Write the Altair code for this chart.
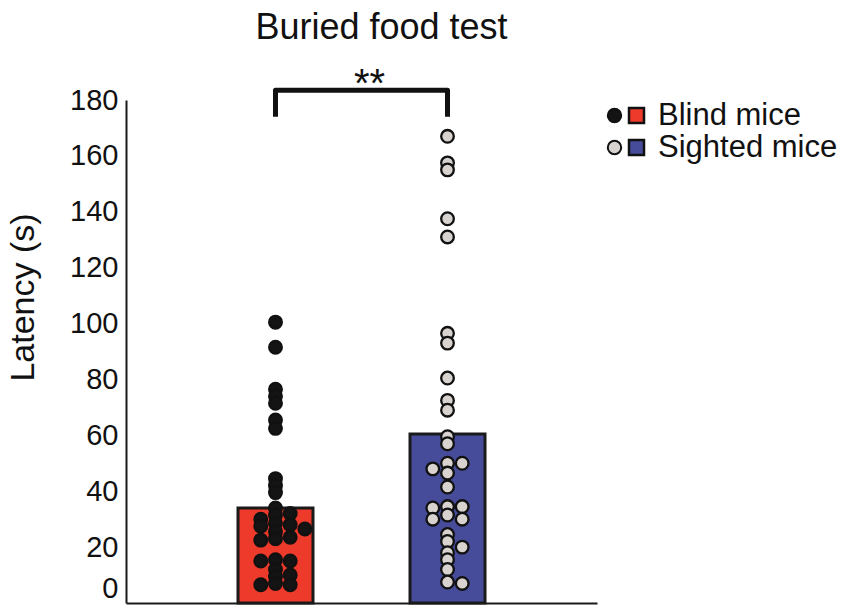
import altair as alt
import pandas as pd

# ---------------- data ----------------
groups = ["Blind mice", "Sighted mice"]
blind_latency = [100.5, 91.5, 76.5, 74, 71.5, 65.5, 62.5, 44.5, 42, 39.5, 34, 32,
                 31.5, 30, 28.5, 28, 27.5, 26.5, 25.5, 23.5, 23, 22.5, 15.5, 15,
                 15, 12, 10, 9.5, 7, 6.5, 6.5]
sighted_latency = [167, 157.5, 155, 137.5, 131, 96.5, 93, 80.5, 72.5, 69, 59.5, 57,
                   50, 50, 48, 46.5, 41.5, 34, 34.5, 31.5, 34.5, 30, 30, 24.5, 22,
                   20, 18, 15.5, 12, 7.5, 7]
bar_means = [34, 60.5]
y_ticks = [0, 20, 40, 60, 80, 100, 120, 140, 160, 180]
bracket_low = 174
bracket_high = 183.5
sig_label = "**"
sig_y = 181

bar_colors = ["#ee3a2b", "#474c9a"]
dot_colors = ["#141414", "#d8d3cf"]
FONT = "Liberation Sans"

# ---------------- simple beeswarm (computed from the values) ----------------
PX_PER_UNIT = 503 / 180.0
SLOT_W = 0.0855          # horizontal slot width in x-units (~15 px)
THR = 6.5 / PX_PER_UNIT  # vertical closeness that forces a sideways shift


def swarm(values):
    placed = []
    slots = [0] * len(values)
    order = sorted(range(len(values)), key=lambda i: -values[i])
    for i in order:
        v = values[i]
        chosen = 0
        for s in [0, 1, -1, 2, -2, 3, -3]:
            if all(not (ps == s and abs(pv - v) < THR) for pv, ps in placed):
                chosen = s
                break
        placed.append((v, chosen))
        slots[i] = chosen
    return slots


rows = []
for gi, (g, vals) in enumerate(zip(groups, [blind_latency, sighted_latency])):
    for v, s in zip(vals, swarm(vals)):
        rows.append({"group": g, "value": v, "xpos": gi + s * SLOT_W})
points_df = pd.DataFrame(rows)

bars_df = pd.DataFrame({"group": groups, "xpos": list(range(len(groups))), "mean": bar_means})

bracket_df = pd.DataFrame({
    "xpos": [0, 0, 1, 1],
    "y": [bracket_low, bracket_high, bracket_high, bracket_low],
    "order": [0, 1, 2, 3],
})
sig_df = pd.DataFrame({"xpos": [0.5], "y": [sig_y], "label": [sig_label]})

# ---------------- scales ----------------
x_scale = alt.Scale(domain=[-0.84, 1.84], nice=False, zero=False)
y_scale = alt.Scale(domain=[0, 180], nice=False)

x_axis = alt.Axis(labels=False, ticks=False, grid=False, title=None,
                  domainColor="#1a1a1a", domainWidth=2)
y_axis = alt.Axis(values=y_ticks, ticks=False, grid=False, labelFontSize=29,
                  labelFont=FONT, labelColor="#111", labelPadding=8,
                  labelBaseline={"expr": "datum.value == 0 ? 'bottom' : 'middle'"},
                  domainColor="#1a1a1a", domainWidth=2,
                  title="Latency (s)", titleFont=FONT, titleFontSize=34,
                  titleFontWeight="normal", titleColor="#111",
                  titleAngle=270, titleX=-103, titleY=197,
                  titleAlign="center", titleBaseline="middle")

bars = alt.Chart(bars_df).mark_bar(size=75, stroke="#1a1a1a", strokeWidth=3).encode(
    x=alt.X("xpos:Q", scale=x_scale, axis=x_axis),
    y=alt.Y("mean:Q", scale=y_scale, axis=y_axis),
    fill=alt.Fill("group:N", scale=alt.Scale(domain=groups, range=bar_colors),
                  legend=alt.Legend(title=None, orient="none", legendX=495, legendY=0,
                                    symbolType="square", symbolSize=225,
                                    symbolStrokeColor="#111", symbolStrokeWidth=2.5,
                                    symbolOpacity=1,
                                    labelFont=FONT, labelFontSize=31, labelColor="#111",
                                    labelLimit=400,
                                    labelOffset=6, rowPadding=0, padding=0)),
)

dots = alt.Chart(points_df).mark_circle(size=160, stroke="#111", strokeWidth=2.3,
                                         opacity=1).encode(
    x=alt.X("xpos:Q", scale=x_scale),
    y=alt.Y("value:Q", scale=y_scale),
    fill=alt.Fill("group:N", scale=alt.Scale(domain=groups, range=dot_colors),
                  legend=alt.Legend(title=None, orient="none", legendX=473, legendY=0,
                                    symbolType="circle", symbolSize=180,
                                    symbolStrokeColor="#111", symbolStrokeWidth=2,
                                    symbolOpacity=1,
                                    labelExpr="''",
                                    labelFont=FONT, labelFontSize=31,
                                    labelOffset=6, rowPadding=0, padding=0)),
)

bracket = alt.Chart(bracket_df).mark_line(color="#111", strokeWidth=5,
                                          strokeJoin="round", clip=False).encode(
    x=alt.X("xpos:Q", scale=x_scale),
    y=alt.Y("y:Q", scale=y_scale),
    order="order:Q",
)

sig = alt.Chart(sig_df).mark_text(font=FONT, fontSize=40, color="#111", dx=8,
                                  baseline="alphabetic", align="center").encode(
    x=alt.X("xpos:Q", scale=x_scale),
    y=alt.Y("y:Q", scale=y_scale),
    text="label:N",
)

chart = alt.layer(bars, dots, bracket, sig).resolve_scale(fill="independent").properties(
    width=471, height=503,
    autosize=alt.AutoSizeParams(type="none"),
    padding={"left": 126, "top": 100, "right": 253, "bottom": 2},
    title=alt.TitleParams("Buried food test", font=FONT, fontSize=36,
                          fontWeight="normal", color="#111", anchor="middle",
                          frame="group", dx=20, offset=18),
).configure_view(stroke=None)

chart.save("out.html", embed_options={"renderer": "svg", "actions": False})
